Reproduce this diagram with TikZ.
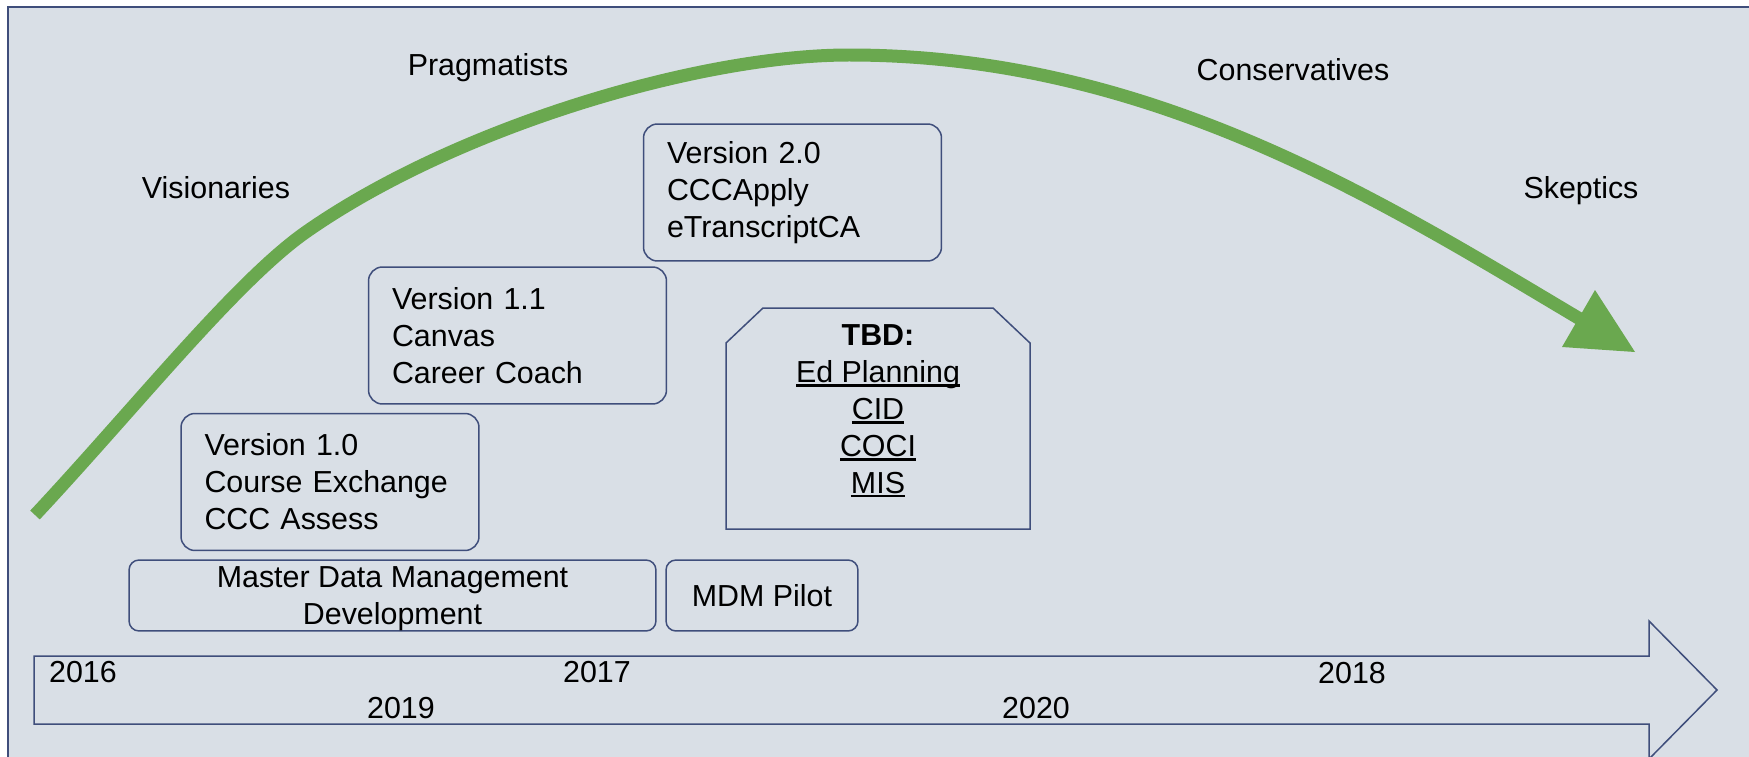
\documentclass[tikz,border=0pt]{standalone}
\usepackage{fontspec}
\setmainfont{Liberation Sans}
\usetikzlibrary{arrows.meta}
\definecolor{bg}{HTML}{D9DFE6}
\definecolor{navy}{HTML}{3F4E7B}
\definecolor{grn}{HTML}{6AA84F}
\newcommand\ulx[1]{\setbox0\hbox{#1}\rlap{\rule[-2.5pt]{\wd0}{1.4pt}}\box0}
\begin{document}
\begin{tikzpicture}[x=0.02cm,y=-0.02cm,
  txt/.style={font=\fontsize{17.3}{21}\selectfont, inner sep=0pt},
  verbox/.style={txt, draw=navy, line width=0.03cm, rounded corners=0.28cm,
    minimum width=5.96cm, minimum height=2.74cm, text width=5.02cm,
    inner xsep=0.47cm, align=left},
  mdmbox/.style={txt, draw=navy, line width=0.03cm, rounded corners=0.2cm,
    minimum height=1.42cm, align=center},
  outline/.style={draw=navy, line width=0.03cm},
  curve/.style={draw=grn, line width=0.26cm}]
\clip (0,0) rectangle (1749,757);
\fill[white] (0,0) rectangle (1749,757);
\filldraw[fill=bg, draw=navy, line width=0.04cm] (8,7) rectangle (1780,790);

% adoption curve
\coordinate (c0) at (35,515);
\coordinate (c1) at (306,232);
\coordinate (c2) at (849,55);
\coordinate (c3) at (1580,319);
\draw[curve] (c0) .. controls (135,408) and (236,281) .. (c1)
  .. controls (456,127) and (700,55) .. (c2)
  .. controls (1150,55) and (1380,200) .. (c3);
\fill[grn] (1595,290) -- (1562,347) -- (1635,352) -- cycle;

% group labels
\node[txt, anchor=base] (prag) at (488,76) {Pragmatists};
\node[txt, anchor=base] (vis) at (216,198) {Visionaries};
\node[txt, anchor=base] (cons) at (1293,81) {Conservatives};
\node[txt, anchor=base] (skep) at (1581,198) {Skeptics};

% version boxes
\node[verbox] (v10) at (330,482) {Version 1.0\\Course Exchange\\CCC Assess};
\node[verbox] (v11) at (517.5,335.5) {Version 1.1\\Canvas\\Career Coach};
\node[verbox] (v20) at (792.5,192.5) {Version 2.0\\CCCApply\\eTranscriptCA};

% MDM boxes
\node[mdmbox, minimum width=10.54cm] (mdm) at (392.5,595.5) {\rule{0pt}{15.5pt}Master Data Management\\Development};
\node[mdmbox, minimum width=3.84cm] (pilot) at (762,595.5) {MDM Pilot};

% TBD box
\coordinate (t1) at (726,529);
\coordinate (t2) at (726,343);
\coordinate (t3) at (763,308);
\coordinate (t4) at (993,308);
\coordinate (t5) at (1030,343);
\coordinate (t6) at (1030,529);
\draw[outline] (t1) -- (t2) -- (t3) -- (t4) -- (t5) -- (t6) -- cycle;
\node[txt, align=center] (tbd) at (878,411) {\textbf{TBD:}\\\ulx{Ed Planning}\\\ulx{CID}\\\ulx{COCI}\\\ulx{MIS}};

% timeline arrow
\coordinate (a1) at (34,656);
\coordinate (a2) at (1649,656);
\coordinate (a3) at (1649,621);
\coordinate (a4) at (1717,690);
\coordinate (a5) at (1649,759);
\coordinate (a6) at (1649,724);
\coordinate (a7) at (34,724);
\draw[outline] (a1) -- (a2) -- (a3) -- (a4) -- (a5) -- (a6) -- (a7) -- cycle;

\node[txt, anchor=base] (y16) at (83,682) {2016};
\node[txt, anchor=base] (y17) at (597,682) {2017};
\node[txt, anchor=base] (y18) at (1352,683) {2018};
\node[txt, anchor=base] (y19) at (401,718) {2019};
\node[txt, anchor=base] (y20) at (1036,718) {2020};
\end{tikzpicture}
\end{document}
